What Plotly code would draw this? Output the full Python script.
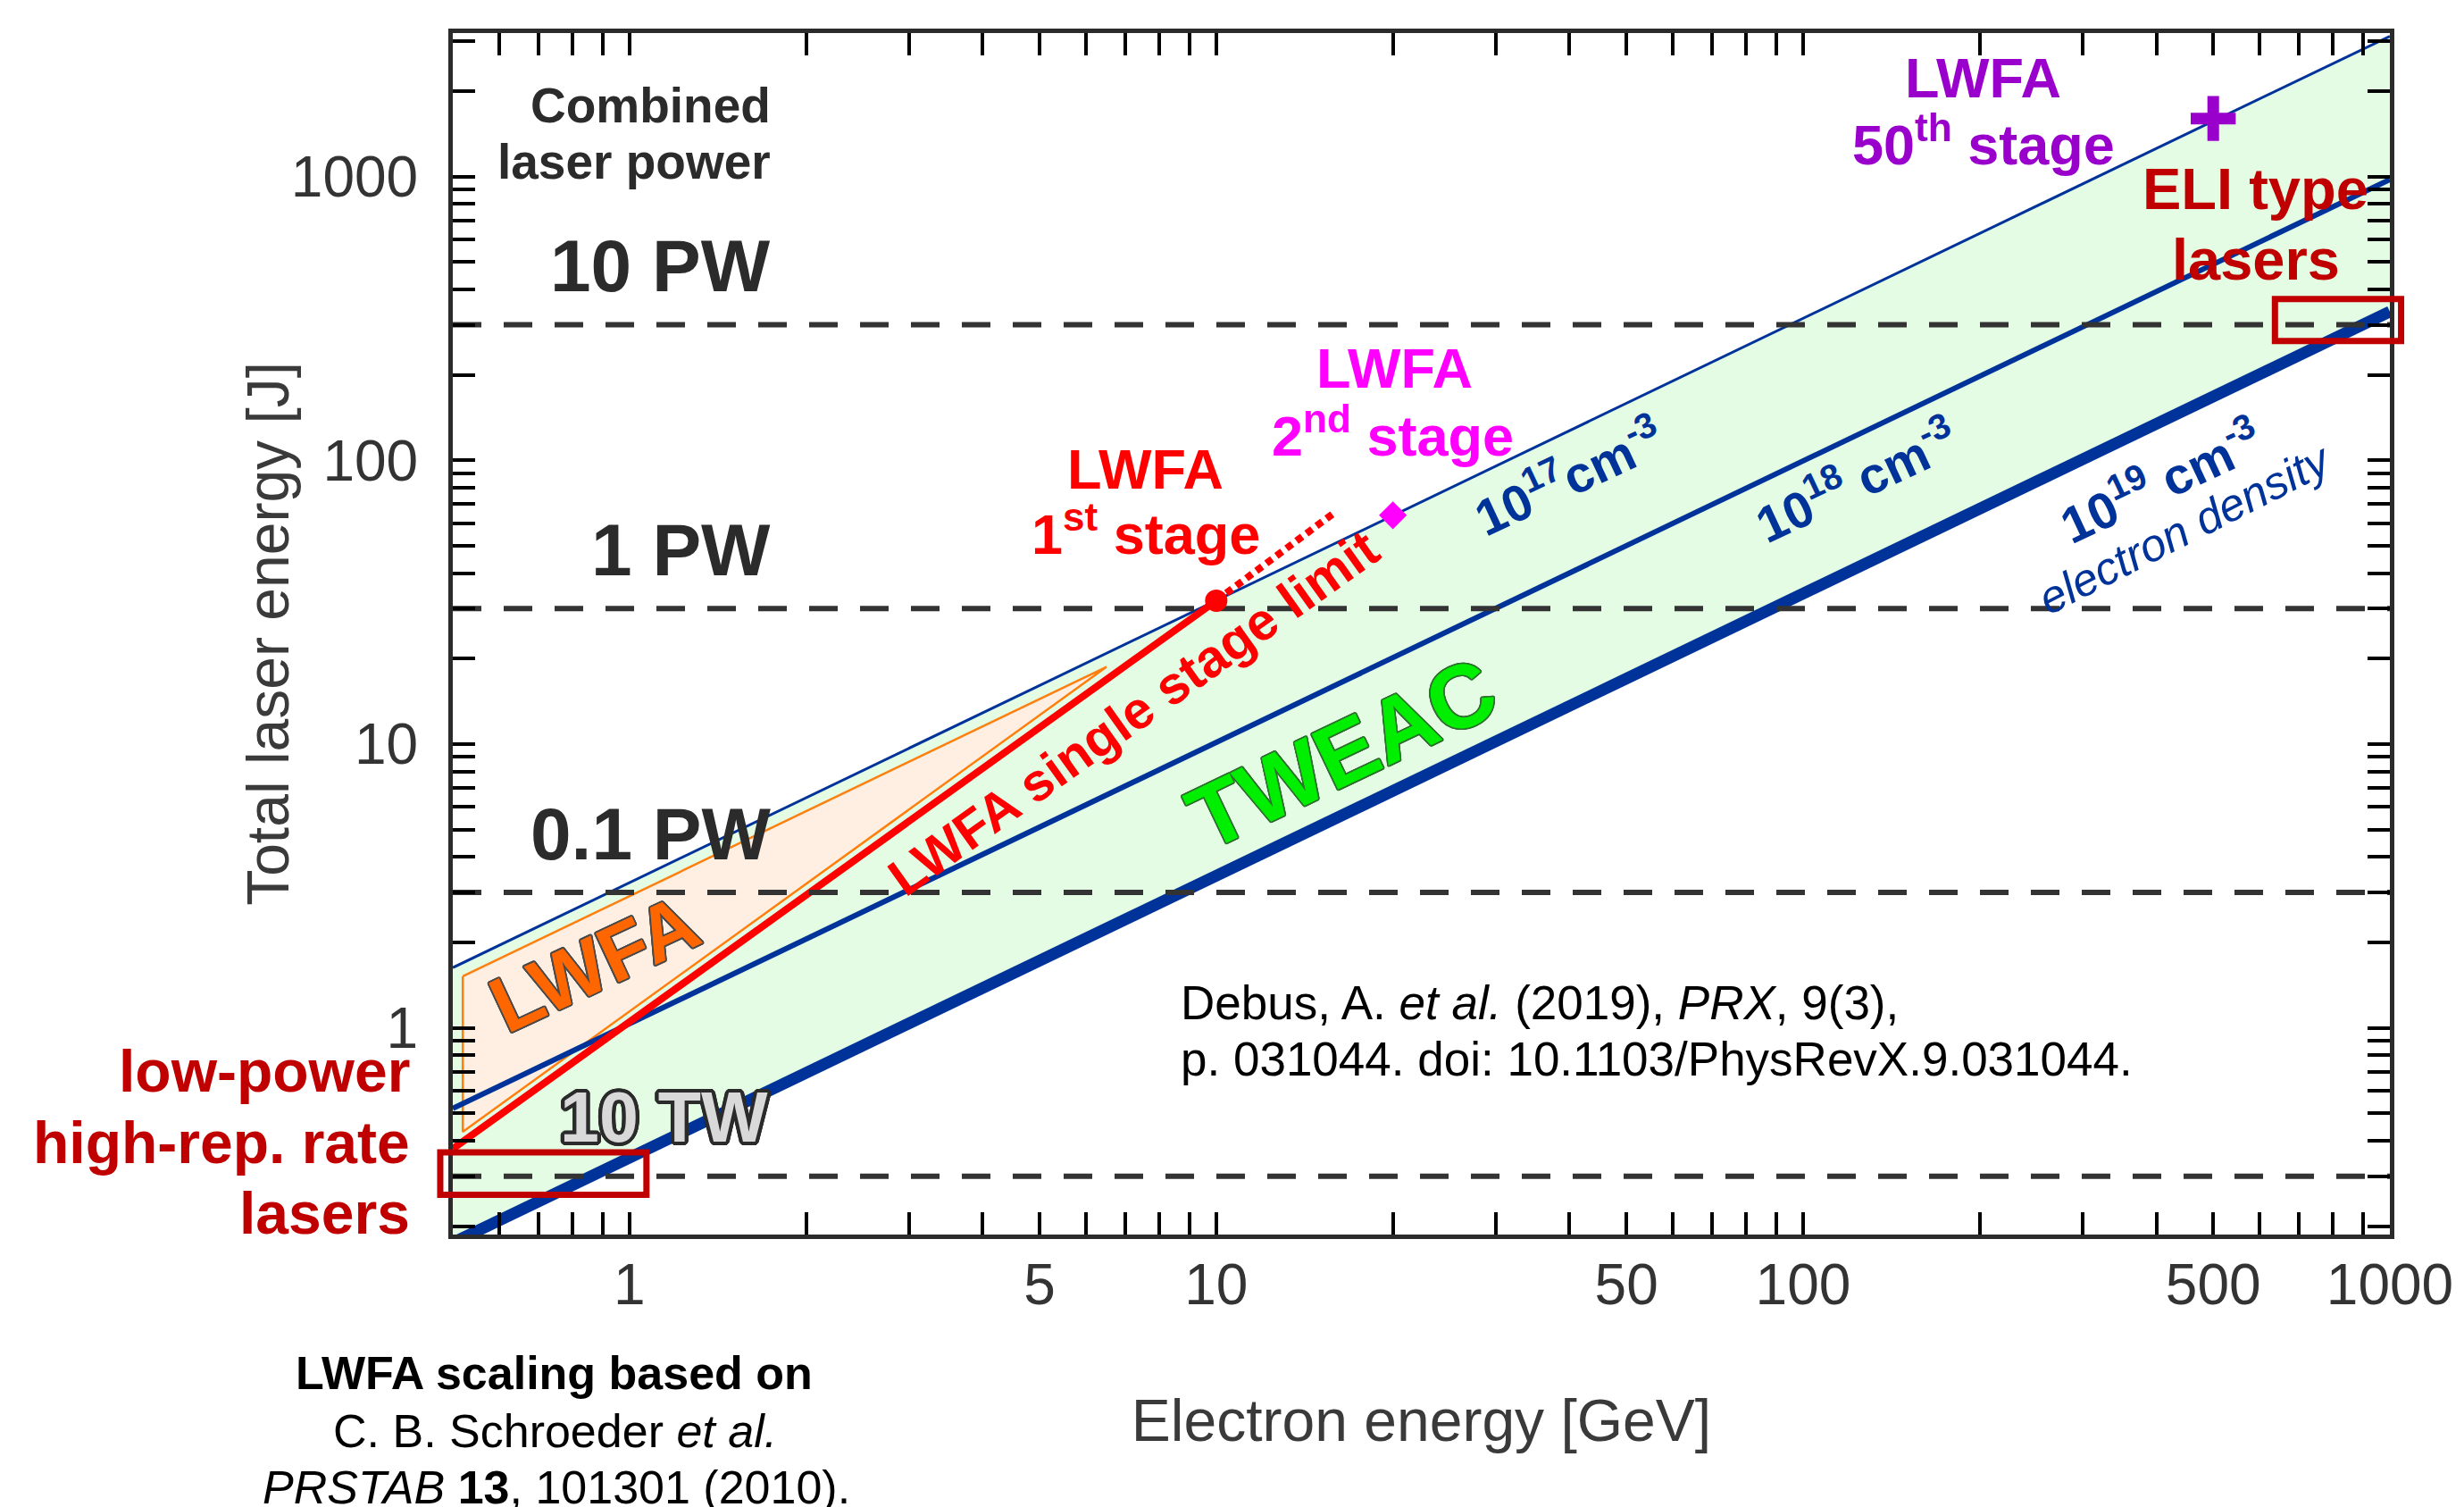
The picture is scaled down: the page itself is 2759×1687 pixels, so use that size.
import math
import plotly.graph_objects as go

# ---------------- data ----------------
E_RANGE = [0.5, 1000]          # electron energy axis limits [GeV]
W_RANGE = [0.187, 3200]        # total laser energy axis limits [J]

DENSITY_E = [0.5, 1000]        # GeV
W_N17 = [1.63, 3120]           # J, 1e17 cm^-3
W_N18 = [0.52, 975]            # J, 1e18 cm^-3
W_N19 = [0.175, 334]           # J, 1e19 cm^-3

LWFA_REGION_E = [0.52, 6.5, 0.52, 0.52]
LWFA_REGION_W = [1.52, 18.7, 0.43, 1.52]

LIMIT_E = [0.5, 10]
LIMIT_W = [0.375, 32]
LIMIT_EXT_E = [10, 16]
LIMIT_EXT_W = [32, 66]

STAGE_E = [10, 20, 500]
STAGE_W = [32, 64, 1600]

POWER_LEVELS_J = [0.3, 3, 30, 300]
POWER_LABELS = ["10 TW", "0.1 PW", "1 PW", "10 PW"]

LOWPOWER_BOX_E = [0.476, 1.069]
LOWPOWER_BOX_W = [0.258, 0.364]
ELI_BOX_E = [637, 1045]
ELI_BOX_W = [263, 370]

X_LABELED = [1, 5, 10, 50, 100, 500, 1000]
Y_LABELED = [1, 10, 100, 1000]

# ---------------- styling helpers ----------------
FONT = "Liberation Sans, Arial, sans-serif"
BLUE = "#003399"
W_FIG, H_FIG = 2759, 1687
PL, PR, PT, PB = 507, 2685, 37, 1382


def fx(px):
    return (px - PL) / (PR - PL)


def fy(py):
    return (PB - py) / (PB - PT)


def xdom(v):
    a, b = math.log10(E_RANGE[0]), math.log10(E_RANGE[1])
    return (math.log10(v) - a) / (b - a)


def ydom(v):
    a, b = math.log10(W_RANGE[0]), math.log10(W_RANGE[1])
    return (math.log10(v) - a) / (b - a)


def outline(color, w, n=16):
    parts = []
    for i in range(n):
        ang = 2 * math.pi * i / n
        parts.append(f"{w * math.cos(ang):.2f}px {w * math.sin(ang):.2f}px 0 {color}")
    return ", ".join(parts)


def ticks(lo, hi):
    vals = []
    for k in range(-1, 4):
        for m in range(1, 10):
            v = round(m * 10 ** k, 6)
            if lo * 0.999 <= v <= hi * 1.001:
                vals.append(v)
    return vals


xt = ticks(E_RANGE[0] * 1.1, E_RANGE[1])
yt = ticks(W_RANGE[0], W_RANGE[1])
xtt = [str(int(v)) if v in X_LABELED else "" for v in xt]
ytt = [str(int(v)) if v in Y_LABELED else "" for v in yt]

fig = go.Figure()

# green TWEAC band between 1e17 and 1e19 lines
fig.add_trace(go.Scatter(
    x=DENSITY_E + DENSITY_E[::-1], y=W_N17 + W_N19[::-1],
    fill="toself", fillcolor="#E4FCE4", line=dict(width=0), mode="lines",
    hoverinfo="skip"))

# LWFA region
fig.add_trace(go.Scatter(
    x=LWFA_REGION_E, y=LWFA_REGION_W, fill="toself", fillcolor="#FEEFE2",
    line=dict(color="#FF7F0E", width=2.5), mode="lines", hoverinfo="skip"))

# density lines
for w, lw in [(W_N17, 3), (W_N18, 6), (W_N19, 13)]:
    fig.add_trace(go.Scatter(x=DENSITY_E, y=w, mode="lines",
                             line=dict(color=BLUE, width=lw)))

# LWFA single stage limit
fig.add_trace(go.Scatter(x=LIMIT_E, y=LIMIT_W, mode="lines",
                         line=dict(color="#FF0000", width=8)))
fig.add_trace(go.Scatter(x=LIMIT_EXT_E, y=LIMIT_EXT_W, mode="lines",
                         line=dict(color="#FF0000", width=8, dash="8px,6px")))

# combined power levels (dashed)
for lv in POWER_LEVELS_J:
    fig.add_trace(go.Scatter(x=E_RANGE, y=[lv, lv], mode="lines",
                             line=dict(color="#333333", width=6, dash="32px,25px")))

# stage markers
fig.add_trace(go.Scatter(x=STAGE_E[:1], y=STAGE_W[:1], mode="markers",
                         marker=dict(symbol="circle", size=25, color="#FF0000")))
fig.add_trace(go.Scatter(x=STAGE_E[1:2], y=STAGE_W[1:2], mode="markers",
                         marker=dict(symbol="diamond", size=24, color="#FF00FF")))
fig.add_trace(go.Scatter(x=STAGE_E[2:], y=STAGE_W[2:], mode="markers",
                         marker=dict(symbol="cross-thin", size=36, color="#9900CC",
                                     line=dict(color="#9900CC", width=13))))

ann = []


def A(text, x, y, size, color, xanchor="center", angle=0, bold=True,
      shadow=None, xref="paper", yref="paper", yshift=0, italic=False):
    f = dict(family=FONT, size=size, color=color,
             weight="bold" if bold else "normal",
             style="italic" if italic else "normal")
    if shadow:
        f["shadow"] = shadow
    ann.append(dict(text=text, x=x, y=y, xref=xref, yref=yref, xanchor=xanchor,
                    yanchor="middle", textangle=angle, showarrow=False, font=f,
                    yshift=yshift))


# y axis title (placed as annotation for exact position)
A("Total laser energy [J]", fx(299), fy(709), 66, "#3a3a3a", angle=-90, bold=False)

# combined laser power header and levels
A("Combined", fx(866), fy(118), 55, "#2b2b2b", xanchor="right")
A("laser power", fx(866), fy(181), 55, "#2b2b2b", xanchor="right")
for lv, lab in zip(POWER_LEVELS_J, POWER_LABELS):
    if lab == "10 TW":
        A(lab, fx(863), math.log10(lv), 79, "#D9D9D9", xanchor="right",
          yref="y", yshift=66, shadow=outline("#2b2b2b", 4.2, 20))
    else:
        A(lab, fx(866), math.log10(lv), 82, "#2b2b2b", xanchor="right",
          yref="y", yshift=66)

# stage labels
A("LWFA", fx(1286), fy(525), 63, "#FF0000")
A("1<sup>st</sup> stage", fx(1286), fy(593), 63, "#FF0000")
A("LWFA", fx(1566), fy(412), 63, "#FF00FF")
A("2<sup>nd</sup> stage", fx(1564), fy(483), 63, "#FF00FF")
A("LWFA", fx(2228), fy(87), 63, "#9900CC")
A("50<sup>th</sup> stage", fx(2228), fy(158), 63, "#9900CC")
A("ELI type", fx(2534), fy(212), 65, "#C00000")
A("lasers", fx(2534), fy(290), 65, "#C00000")
A("low-power", fx(461), fy(1199), 66, "#C00000", xanchor="right")
A("high-rep. rate", fx(461), fy(1279), 66, "#C00000", xanchor="right")
A("lasers", fx(461), fy(1358), 66, "#C00000", xanchor="right")

# in-plot region labels
A("TWEAC", fx(1507), fy(843), 100, "#00EE00", angle=-25.5,
  shadow=outline("#2f6f2f", 1.6))
A("LWFA single stage limit", fx(1273), fy(798), 59, "#FF0000", angle=-35.5)
A("LWFA", fx(666), fy(1078), 88, "#FF6600", angle=-25,
  shadow=outline("#4a4a4a", 1.8))
A("10<sup>17</sup>cm<sup>-3</sup>", fx(1761), fy(532), 57, BLUE, angle=-25)
A("10<sup>18</sup> cm<sup>-3</sup>", fx(2085), fy(536), 57, BLUE, angle=-25)
A("10<sup>19</sup> cm<sup>-3</sup>", fx(2427), fy(537), 57, BLUE, angle=-25)
A("electron density", fx(2455), fy(591), 51, BLUE, angle=-27, bold=False,
  italic=True)

# citations
A("Debus, A. <i>et al.</i> (2019), <i>PRX</i>, 9(3),", fx(1323), fy(1122), 53,
  "#000000", xanchor="left", bold=False)
A("p. 031044. doi: 10.1103/PhysRevX.9.031044.", fx(1323), fy(1185), 53,
  "#000000", xanchor="left", bold=False)
A("LWFA scaling based on", fx(621), fy(1537), 52, "#000000")
A("C. B. Schroeder <i>et al.</i>", fx(622), fy(1602), 52, "#000000", bold=False)
A("<i>PRSTAB</i> <b>13</b>, 101301 (2010).", fx(623), fy(1665), 52, "#000000",
  bold=False)

shapes = []
for be, bw in [(LOWPOWER_BOX_E, LOWPOWER_BOX_W), (ELI_BOX_E, ELI_BOX_W)]:
    shapes.append(dict(type="rect", xref="x domain", yref="y domain",
                       x0=xdom(be[0]), x1=xdom(be[1]), y0=ydom(bw[0]), y1=ydom(bw[1]),
                       line=dict(color="#C00000", width=7), layer="above"))

axis_common = dict(type="log", showgrid=False, zeroline=False, showline=True,
                   linewidth=5, linecolor="#2b2b2b", mirror="ticks",
                   ticks="inside", ticklen=25, tickwidth=4, tickcolor="#000000",
                   tickfont=dict(family=FONT, size=64, color="#333333"))

fig.update_layout(
    width=W_FIG, height=H_FIG,
    margin=dict(l=PL, r=W_FIG - PR, t=PT, b=H_FIG - PB),
    paper_bgcolor="white", plot_bgcolor="white", showlegend=False,
    annotations=ann, shapes=shapes,
    xaxis=dict(axis_common, range=[math.log10(E_RANGE[0]), math.log10(E_RANGE[1])],
               tickvals=xt, ticktext=xtt, ticklabelstandoff=-4,
               title=dict(text="Electron energy [GeV]", standoff=96,
                          font=dict(family=FONT, size=66, color="#3a3a3a"))),
    yaxis=dict(axis_common, range=[math.log10(W_RANGE[0]), math.log10(W_RANGE[1])],
               tickvals=yt, ticktext=ytt, ticklabelstandoff=21),
)

fig.write_html("out.html")
